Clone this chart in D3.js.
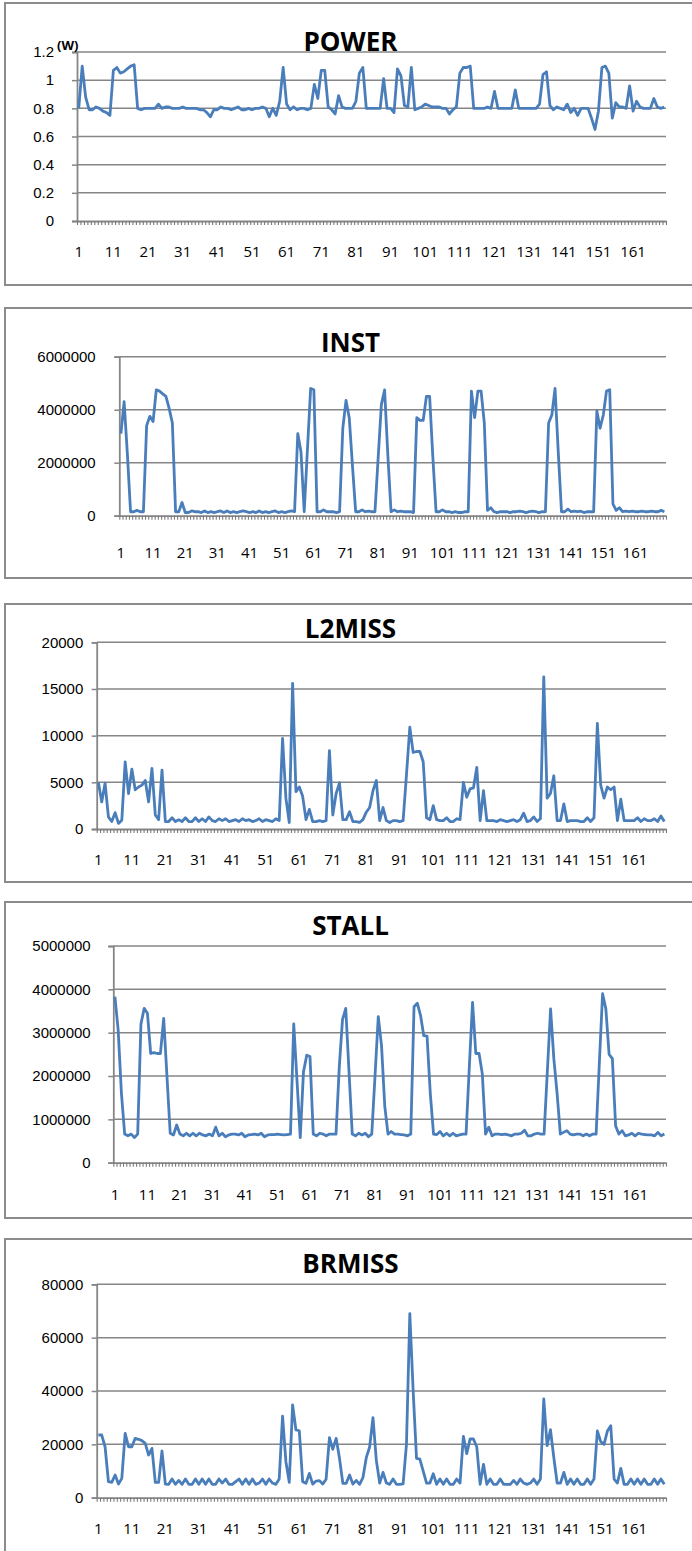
<!DOCTYPE html>
<html>
<head>
<meta charset="utf-8">
<script src="https://cdn.jsdelivr.net/npm/d3@7"></script>
<style>
    body { margin: 0; background: #fff; }
    svg { display: block; font-family: "Open Sans", "DejaVu Sans", sans-serif; }
</style>
</head>
<body>
<div id="charts"></div>
<script>
// Sample index on the category axis
const categories = d3.range(1, 171);
const xTickLabels = [1, 11, 21, 31, 41, 51, 61, 71, 81, 91, 101, 111, 121, 131, 141, 151, 161];

// Y tick values per chart
const powerTicks = [0, 0.2, 0.4, 0.6, 0.8, 1, 1.2];
const instTicks = [0, 2000000, 4000000, 6000000];
const l2missTicks = [0, 5000, 10000, 15000, 20000];
const stallTicks = [0, 1000000, 2000000, 3000000, 4000000, 5000000];
const brmissTicks = [0, 20000, 40000, 60000, 80000];

// Series values
const power = [0.80,1.10,0.88,0.79,0.79,0.81,0.80,0.78,0.77,0.75,
    1.07,1.09,1.05,1.06,1.08,1.10,1.11,0.80,0.79,0.80,
    0.80,0.80,0.80,0.83,0.80,0.81,0.81,0.80,0.80,0.80,
    0.81,0.80,0.80,0.80,0.80,0.79,0.79,0.77,0.74,0.79,
    0.79,0.81,0.80,0.80,0.79,0.80,0.81,0.79,0.79,0.80,
    0.79,0.80,0.80,0.81,0.80,0.74,0.80,0.75,0.85,1.09,
    0.83,0.79,0.81,0.79,0.80,0.80,0.79,0.80,0.97,0.87,
    1.07,1.07,0.81,0.79,0.76,0.89,0.81,0.80,0.80,0.80,
    0.85,1.05,1.09,0.80,0.80,0.80,0.80,0.80,1.01,0.80,
    0.80,0.77,1.08,1.03,0.82,0.81,1.09,0.79,0.80,0.81,
    0.83,0.82,0.81,0.81,0.81,0.80,0.80,0.76,0.79,0.81,
    1.05,1.09,1.09,1.10,0.80,0.80,0.80,0.80,0.81,0.80,
    0.92,0.80,0.80,0.80,0.80,0.80,0.93,0.80,0.80,0.80,
    0.80,0.80,0.80,0.83,1.04,1.06,0.82,0.79,0.81,0.80,
    0.79,0.83,0.77,0.80,0.75,0.80,0.80,0.80,0.73,0.65,
    0.78,1.09,1.10,1.05,0.73,0.84,0.81,0.81,0.80,0.96,
    0.78,0.85,0.81,0.80,0.80,0.80,0.87,0.81,0.80,0.81];

const inst = [3100000,4300000,2350000,150000,150000,200000,150000,150000,3400000,3750000,
    3550000,4750000,4700000,4600000,4500000,4050000,3500000,150000,150000,500000,
    120000,120000,180000,150000,150000,120000,180000,120000,150000,120000,
    150000,180000,120000,180000,120000,150000,120000,150000,180000,150000,
    120000,150000,120000,180000,120000,150000,120000,150000,180000,120000,
    150000,120000,150000,180000,150000,3100000,2400000,150000,2500000,4800000,
    4750000,150000,150000,220000,150000,150000,150000,120000,150000,3300000,
    4350000,3700000,1900000,150000,150000,220000,150000,170000,150000,150000,
    2200000,4200000,4750000,2300000,150000,220000,150000,170000,150000,150000,
    150000,120000,3700000,3600000,3600000,4500000,4500000,2200000,150000,150000,
    220000,150000,150000,120000,150000,120000,120000,150000,150000,4700000,
    3700000,4700000,4700000,3500000,200000,300000,150000,120000,150000,150000,
    150000,120000,150000,150000,170000,150000,120000,150000,170000,150000,
    120000,150000,150000,3500000,3800000,4800000,2400000,150000,150000,250000,
    150000,170000,150000,170000,120000,150000,150000,150000,3950000,3300000,
    3800000,4700000,4750000,450000,200000,300000,150000,170000,150000,170000,
    150000,150000,170000,150000,150000,170000,150000,150000,200000,150000];

const l2miss = [5000,2900,4900,1300,800,1750,600,950,7200,3800,
    6400,4200,4500,4700,5200,2900,6500,1500,1000,6300,
    800,800,1200,800,1000,800,1200,800,800,1200,
    800,1100,800,1300,900,800,1100,900,1100,800,
    900,1000,800,1100,900,1000,800,900,1100,800,
    1000,900,800,1100,900,9700,3300,700,15600,4000,
    4500,3500,1000,2100,800,800,900,800,900,8400,
    1500,3800,4950,1000,1000,1850,800,800,700,1000,
    1800,2300,4100,5200,900,2300,900,700,900,900,
    800,900,5800,10900,8200,8300,8300,7200,1200,1000,
    2500,1000,900,900,1200,800,800,1100,1000,5000,
    3400,4300,4400,6600,900,4100,900,900,900,800,
    1000,900,800,900,1000,800,1000,1700,800,900,
    1300,800,1100,16300,3300,3800,5700,900,900,2700,
    800,900,900,900,800,800,1200,800,1200,11300,
    4700,3300,4500,4200,4500,900,3200,900,900,900,
    900,1200,800,1100,900,900,1100,800,1400,800];

const stall = [3830000,3060000,1600000,660000,620000,660000,580000,660000,3200000,3560000,
    3450000,2520000,2540000,2520000,2520000,3330000,2000000,680000,640000,870000,
    660000,620000,680000,620000,680000,620000,680000,640000,620000,660000,
    620000,820000,620000,680000,600000,640000,660000,660000,640000,680000,
    600000,640000,650000,660000,640000,680000,600000,640000,650000,650000,
    660000,650000,640000,650000,660000,3200000,1900000,580000,2100000,2480000,
    2450000,660000,620000,680000,660000,620000,660000,660000,660000,2200000,
    3300000,3560000,2100000,660000,620000,680000,640000,680000,600000,660000,
    2000000,3370000,2700000,1300000,660000,720000,660000,660000,650000,640000,
    620000,660000,3600000,3680000,3400000,2930000,2920000,1600000,660000,650000,
    720000,620000,680000,620000,680000,620000,640000,660000,660000,2200000,
    3700000,2520000,2520000,2050000,660000,820000,620000,660000,660000,650000,
    660000,640000,620000,660000,660000,680000,750000,620000,620000,660000,
    680000,660000,660000,2100000,3550000,2400000,1600000,660000,700000,740000,
    660000,640000,660000,660000,620000,660000,620000,660000,660000,2300000,
    3900000,3550000,2500000,2400000,850000,660000,740000,620000,640000,680000,
    620000,680000,660000,650000,640000,640000,620000,700000,620000,660000];

const brmiss = [23500,23500,19100,6000,5750,8500,5100,7250,24100,19100,
    19100,22250,21900,21400,20400,16000,18500,5750,5750,17500,
    5100,5000,7000,5000,6500,5000,7000,5000,5000,7000,
    5000,7000,5000,7000,5000,5000,7000,5500,7000,5000,
    5000,6000,7000,5000,7000,5000,7000,5000,5500,7000,
    5000,7000,5500,5000,7000,30600,13500,5750,34750,25400,
    25100,6000,5400,9100,5100,6250,6400,5100,6900,22500,
    18100,22250,14750,5400,5400,8500,5100,6500,5000,7500,
    15000,19000,30000,14000,5500,9500,5500,5000,7000,5000,
    5000,5200,20000,69000,40000,14750,14500,10000,5500,5500,
    9000,5000,7000,5000,7000,5000,5000,7000,5500,23000,
    16500,22000,22000,19000,5000,12500,5000,7000,5000,5000,
    7000,5000,5000,5000,6500,5000,7000,5500,5000,5500,
    7000,5000,7000,37000,19500,25500,15000,5500,5500,9500,
    5000,7000,5000,7000,5000,5000,7000,5000,7000,25000,
    21000,20000,25000,27000,7000,5500,11000,5000,5000,7000,
    5000,7000,5000,7000,5000,5000,7000,5000,7000,5000];

// Layout of the five stacked charts (pixel positions only)
const panels = [
    {title: "POWER",  values: power,  ticks: powerTicks,  unit: "(W)",
     box: [3, 285],    plot: {left: 77,    right: 666, top: 52,    bottom: 221},    labelRight: 54,   xLabelY: 252,    titleY: 50.5},
    {title: "INST",   values: inst,   ticks: instTicks,
     box: [308, 578],  plot: {left: 119.3, right: 666, top: 356.7, bottom: 515.7},  labelRight: 95.7, xLabelY: 552.7,  titleY: 351.5},
    {title: "L2MISS", values: l2miss, ticks: l2missTicks,
     box: [604, 882],  plot: {left: 96.7,  right: 666, top: 642.3, bottom: 829},    labelRight: 83.3, xLabelY: 860,    titleY: 638.3},
    {title: "STALL",  values: stall,  ticks: stallTicks,
     box: [902, 1218], plot: {left: 113.3, right: 666, top: 946,   bottom: 1162.7}, labelRight: 90.7, xLabelY: 1194.3, titleY: 935},
    {title: "BRMISS", values: brmiss, ticks: brmissTicks,
     box: [1239, 1570], plot: {left: 96.7, right: 666, top: 1284.3, bottom: 1497.7}, labelRight: 83.3, xLabelY: 1529, titleY: 1273.3}
];

const gridColor = "#868686";
const lineColor = "#4a7ebb";
const majorTick = 5;

const svg = d3.select("#charts")
    .append("svg")
    .attr("width", 692)
    .attr("height", 1551);

panels.forEach(p => drawPanel(p));

function drawPanel(p) {
    const g = svg.append("g").attr("class", "panel");

    // Outer chart border (runs off the right edge like the original)
    g.append("rect")
        .attr("x", 5)
        .attr("y", p.box[0])
        .attr("width", 700)
        .attr("height", p.box[1] - p.box[0])
        .attr("fill", "#fff")
        .attr("stroke", "#8c8c8c")
        .attr("stroke-width", 2);

    // Category scale: each sample sits in the middle of its slot
    const x = d3.scaleLinear()
        .domain([0.5, categories.length + 0.5])
        .range([p.plot.left, p.plot.right]);

    const y = d3.scaleLinear()
        .domain([0, d3.max(p.ticks)])
        .range([p.plot.bottom, p.plot.top]);

    // Horizontal gridlines
    g.append("g")
        .selectAll("line")
        .data(p.ticks.filter(t => t > 0))
        .enter()
        .append("line")
        .attr("x1", p.plot.left)
        .attr("x2", p.plot.right)
        .attr("y1", d => y(d))
        .attr("y2", d => y(d))
        .attr("stroke", gridColor)
        .attr("stroke-width", 1.5);

    // Y axis with labels
    const yAxis = g.append("g")
        .attr("transform", `translate(${p.plot.left},0)`)
        .call(d3.axisLeft(y)
            .tickValues(p.ticks)
            .tickSize(majorTick)
            .tickPadding(p.plot.left - majorTick - p.labelRight)
            .tickFormat(d => String(d)));
    yAxis.select(".domain").attr("stroke", gridColor).attr("stroke-width", 1.8);
    yAxis.selectAll(".tick line").attr("stroke", gridColor).attr("stroke-width", 1.5);
    yAxis.selectAll("text")
        .attr("fill", "#000")
        .style("font-size", "15px");

    // X axis line with a small tick at every slot boundary
    const xAxis = g.append("g")
        .attr("transform", `translate(0,${p.plot.bottom})`)
        .call(d3.axisBottom(x)
            .tickValues(d3.range(0.5, categories.length + 1, 1))
            .tickSize(4)
            .tickSizeOuter(0)
            .tickFormat(""));
    xAxis.select(".domain").attr("stroke", gridColor).attr("stroke-width", 1.8);
    xAxis.selectAll(".tick line").attr("stroke", "#7a7a7a").attr("stroke-width", 1.1);

    // X labels every tenth sample
    g.append("g")
        .selectAll("text")
        .data(xTickLabels)
        .enter()
        .append("text")
        .attr("x", d => x(d))
        .attr("y", p.xLabelY)
        .attr("dy", "0.35em")
        .attr("text-anchor", "middle")
        .attr("fill", "#000")
        .style("font-size", "15px")
        .text(d => d);

    // Data line
    const line = d3.line()
        .x((d, i) => x(categories[i]))
        .y(d => y(d));

    g.append("path")
        .datum(p.values)
        .attr("d", line)
        .attr("fill", "none")
        .attr("stroke", lineColor)
        .attr("stroke-width", 2.8)
        .attr("stroke-linejoin", "round");

    // Title
    g.append("text")
        .attr("x", 350.5)
        .attr("y", p.titleY)
        .attr("text-anchor", "middle")
        .style("font-size", "26px")
        .style("font-weight", "bold")
        .text(p.title);

    // Unit label
    if (p.unit) {
        g.append("text")
            .attr("x", 57)
            .attr("y", p.plot.top - 2)
            .style("font-size", "13px")
            .style("font-weight", "bold")
            .text(p.unit);
    }
}
</script>
</body>
</html>
